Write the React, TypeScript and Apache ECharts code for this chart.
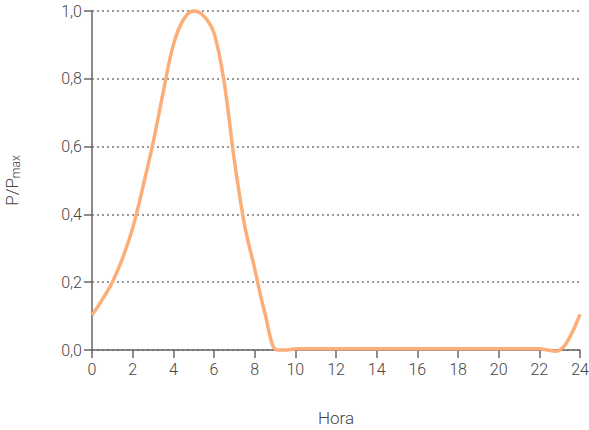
import React, { useEffect, useRef } from "react";
import * as echarts from "echarts";

const hours = [0, 0.5, 1, 1.5, 2, 2.5, 3, 3.5, 4, 4.5, 5, 5.5, 6, 6.5, 7, 7.5, 8, 8.5, 9.1, 9.6, 10.1, 12, 14, 16, 18, 20, 22, 22.4, 22.8, 23.2, 23.6, 24];
const power = [0.103, 0.148, 0.2, 0.27, 0.36, 0.48, 0.61, 0.76, 0.9, 0.975, 1.0, 0.985, 0.935, 0.79, 0.56, 0.37, 0.24, 0.11, 0.0, 0.0, 0.004, 0.004, 0.004, 0.004, 0.004, 0.004, 0.004, 0.0, -0.004, 0.01, 0.05, 0.105];

const xTicks = { min: 0, max: 24, interval: 2 };
const yTicks = { min: 0, max: 1, interval: 0.2 };

const FONT = "Roboto";

export default function App() {
  const ref = useRef<HTMLDivElement>(null);
  useEffect(() => {
    if (!ref.current) return;
    const chart = echarts.init(ref.current, null, { renderer: "svg" });
    chart.setOption({
      animation: false,
      grid: { left: 92, right: 9, top: 11, bottom: 80, containLabel: false, outerBoundsMode: "none" },
      xAxis: {
        type: "value",
        min: xTicks.min,
        max: xTicks.max,
        interval: xTicks.interval,
        name: "Hora",
        nameLocation: "middle",
        nameGap: 59,
        nameTextStyle: { color: "#444", fontSize: 17, fontFamily: FONT, fontWeight: 300 },
        axisLine: { lineStyle: { color: "#666", width: 1.5 } },
        axisTick: { length: 8, lineStyle: { color: "#666", width: 1.5 } },
        axisLabel: { color: "#444", fontSize: 16, fontFamily: FONT, fontWeight: 300, margin: 11 },
        splitLine: { show: false },
      },
      yAxis: {
        type: "value",
        min: yTicks.min,
        max: yTicks.max,
        interval: yTicks.interval,
        name: "{a|P/P}{b|max}",
        nameLocation: "middle",
        nameGap: 70,
        nameRotate: 90,
        nameTextStyle: {
          rich: {
            a: { color: "#444", fontSize: 17, fontFamily: FONT, fontWeight: 300 },
            b: { color: "#444", fontSize: 12, fontFamily: FONT, fontWeight: 300, padding: [8, 0, 0, 0] },
          },
        },
        axisLine: { show: true, lineStyle: { color: "#666", width: 1.5 } },
        axisTick: { show: true, length: 8, lineStyle: { color: "#666", width: 1.5 } },
        axisLabel: {
          color: "#444",
          fontSize: 16,
          fontFamily: FONT,
          fontWeight: 300,
          margin: 10,
          formatter: (v: number) => v.toFixed(1).replace(".", ","),
        },
        splitLine: { show: true, lineStyle: { color: "#777", width: 1.5, type: [2, 3] } },
      },
      series: [
        {
          type: "line",
          data: hours.map((h, i) => [h, power[i]]),
          smooth: 0.35,
          showSymbol: false,
          clip: false,
          lineStyle: { color: "#FBAE78", width: 3.5 },
        },
      ],
    });
    return () => chart.dispose();
  }, []);
  return <div ref={ref} style={{ width: 589, height: 430, position: "absolute", left: 0, top: 0 }} />;
}
